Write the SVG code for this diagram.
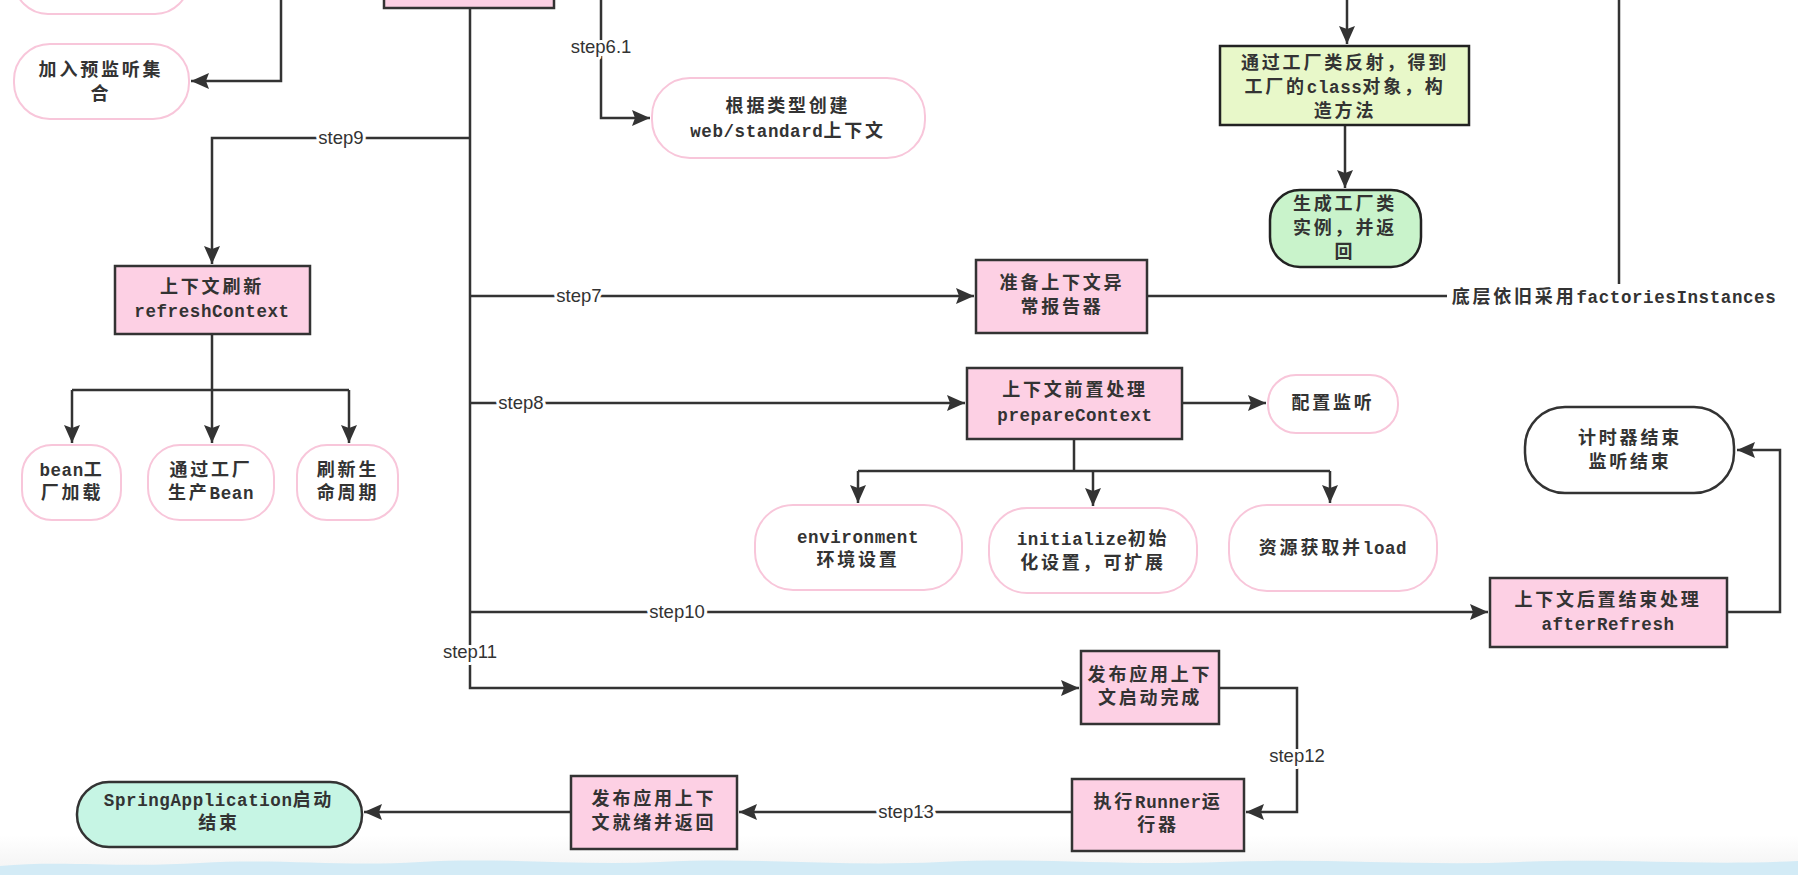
<svg xmlns="http://www.w3.org/2000/svg" width="1798" height="875" viewBox="0 0 1798 875">
<defs>
<style>
.pink{fill:#fdd0e4;stroke:#333;stroke-width:2.5}
.pill{fill:#fff;stroke:#f8c6da;stroke-width:2}
.blk{fill:#fff;stroke:#333;stroke-width:2.5}
.c{fill:none;stroke:#333;stroke-width:2.5}
.t{font-family:"Noto Sans CJK SC","Liberation Mono",sans-serif;font-size:18px;font-weight:bold;fill:#333;text-anchor:middle;letter-spacing:2.8px}
.l{font-family:"Liberation Mono","Noto Sans CJK SC",monospace;font-size:17.5px;font-weight:bold;letter-spacing:0.6px;fill:#333}
.s{font-family:"Liberation Sans",Arial,sans-serif;font-size:18.5px;fill:#333;text-anchor:middle;stroke:#fff;stroke-width:6px;paint-order:stroke;stroke-linejoin:round}
</style>
<marker id="a" markerUnits="userSpaceOnUse" markerWidth="20" markerHeight="16" refX="18" refY="8" orient="auto">
<path d="M0,0 L18,8 L0,16 L3,8 z" fill="#333"/>
</marker>
<linearGradient id="bg" x1="0" y1="0" x2="0" y2="1">
<stop offset="0" stop-color="#fff"/><stop offset="1" stop-color="#f2f2f2"/>
</linearGradient>
</defs>
<rect width="1798" height="875" fill="#fff"/>
<rect x="0" y="835" width="1798" height="40" fill="url(#bg)"/>
<path d="M0,866 C60,860 120,868 200,863 C280,858 340,867 420,862 C500,857 580,866 660,862 C760,857 840,867 940,862 C1040,857 1120,866 1220,862 C1320,858 1420,866 1520,862 C1620,858 1700,866 1798,861 V875 H0 Z" fill="#d3ebf6"/>

<g id="connectors">
<path class="c" d="M281,0 V81 H191" marker-end="url(#a)"/>
<path class="c" d="M470,8 V688 H1079" marker-end="url(#a)"/>
<path class="c" d="M601,0 V118 H650" marker-end="url(#a)"/>
<path class="c" d="M470,138 H212 V264" marker-end="url(#a)"/>
<path class="c" d="M212,334 V390 M72,390 H349"/>
<path class="c" d="M72,390 V443" marker-end="url(#a)"/>
<path class="c" d="M212,390 V443" marker-end="url(#a)"/>
<path class="c" d="M349,390 V443" marker-end="url(#a)"/>
<path class="c" d="M470,296 H974" marker-end="url(#a)"/>
<path class="c" d="M1147,296 H1447 M1619,0 V284"/>
<path class="c" d="M470,403 H965" marker-end="url(#a)"/>
<path class="c" d="M1182,403 H1266" marker-end="url(#a)"/>
<path class="c" d="M1074,439 V471 M858,471 H1330"/>
<path class="c" d="M858,471 V503" marker-end="url(#a)"/>
<path class="c" d="M1093,471 V506" marker-end="url(#a)"/>
<path class="c" d="M1330,471 V503" marker-end="url(#a)"/>
<path class="c" d="M470,612 H1488" marker-end="url(#a)"/>
<path class="c" d="M1727,612 H1780 V450 H1737" marker-end="url(#a)"/>
<path class="c" d="M1347,0 V44" marker-end="url(#a)"/>
<path class="c" d="M1345,125 V188" marker-end="url(#a)"/>
<path class="c" d="M1219,688 H1297 V812 H1246" marker-end="url(#a)"/>
<path class="c" d="M1072,812 H739" marker-end="url(#a)"/>
<path class="c" d="M571,812 H364" marker-end="url(#a)"/>
<text class="s" x="601" y="53">step6.1</text>
<text class="s" x="341" y="144">step9</text>
<text class="s" x="579" y="302">step7</text>
<text class="s" x="521" y="409">step8</text>
<text class="s" x="677" y="618">step10</text>
<text class="s" x="470" y="658">step11</text>
<text class="s" x="1297" y="762">step12</text>
<text class="s" x="906" y="818">step13</text>
<text class="t" x="1614" y="303">底层依旧采用<tspan class="l">factoriesInstances</tspan></text>
</g>

<g id="n-top-left"><rect class="pill" x="14" y="-60" width="175" height="74" rx="34"/></g>
<g id="n-main-top"><rect class="pink" x="384" y="-40" width="170" height="48"/></g>
<g id="n-prelisten"><rect class="pill" x="14" y="44" width="175" height="75" rx="36"/>
<text class="t" x="101" y="76">加入预监听集</text><text class="t" x="101" y="100">合</text></g>
<g id="n-create-ctx"><rect class="pill" x="652" y="78" width="273" height="80" rx="38"/>
<text class="t" x="788" y="112">根据类型创建</text><text class="t" x="788" y="137"><tspan class="l">web/standard</tspan>上下文</text></g>
<g id="n-reflect"><rect x="1220" y="46" width="249" height="79" fill="#e8f8c9" stroke="#222" stroke-width="2.5"/>
<text class="t" x="1345" y="69">通过工厂类反射，得到</text><text class="t" x="1345" y="93">工厂的<tspan class="l">class</tspan>对象，构</text><text class="t" x="1345" y="117">造方法</text></g>
<g id="n-instance"><rect x="1270" y="190" width="151" height="77" rx="30" fill="#c9f3cb" stroke="#222" stroke-width="2.5"/>
<text class="t" x="1345" y="210">生成工厂类</text><text class="t" x="1345" y="234">实例，并返</text><text class="t" x="1345" y="258">回</text></g>
<g id="n-refresh"><rect class="pink" x="115" y="266" width="195" height="68"/>
<text class="t" x="212" y="293">上下文刷新</text><text class="t" x="212" y="317"><tspan class="l">refreshContext</tspan></text></g>
<g id="n-bean"><rect class="pill" x="22" y="445" width="99" height="75" rx="30"/>
<text class="t" x="72" y="476"><tspan class="l">bean</tspan>工</text><text class="t" x="72" y="499">厂加载</text></g>
<g id="n-produce"><rect class="pill" x="148" y="445" width="126" height="75" rx="32"/>
<text class="t" x="211" y="476">通过工厂</text><text class="t" x="211" y="499">生产<tspan class="l">Bean</tspan></text></g>
<g id="n-lifecycle"><rect class="pill" x="297" y="445" width="101" height="75" rx="30"/>
<text class="t" x="348" y="476">刷新生</text><text class="t" x="348" y="499">命周期</text></g>
<g id="n-reporter"><rect class="pink" x="976" y="260" width="171" height="73"/>
<text class="t" x="1062" y="289">准备上下文异</text><text class="t" x="1062" y="313">常报告器</text></g>
<g id="n-prepare"><rect class="pink" x="967" y="368" width="215" height="71"/>
<text class="t" x="1075" y="396">上下文前置处理</text><text class="t" x="1075" y="421"><tspan class="l">prepareContext</tspan></text></g>
<g id="n-listen"><rect class="pill" x="1268" y="375" width="130" height="58" rx="28"/>
<text class="t" x="1333" y="409">配置监听</text></g>
<g id="n-env"><rect class="pill" x="755" y="505" width="207" height="85" rx="38"/>
<text class="t" x="858" y="543"><tspan class="l">environment</tspan></text><text class="t" x="858" y="566">环境设置</text></g>
<g id="n-init"><rect class="pill" x="989" y="508" width="208" height="85" rx="38"/>
<text class="t" x="1093" y="545"><tspan class="l">initialize</tspan>初始</text><text class="t" x="1093" y="569">化设置，可扩展</text></g>
<g id="n-load"><rect class="pill" x="1229" y="505" width="208" height="86" rx="38"/>
<text class="t" x="1333" y="554">资源获取并<tspan class="l">load</tspan></text></g>
<g id="n-timer"><rect class="blk" x="1525" y="407" width="209" height="86" rx="40"/>
<text class="t" x="1630" y="444">计时器结束</text><text class="t" x="1630" y="468">监听结束</text></g>
<g id="n-after"><rect class="pink" x="1490" y="578" width="237" height="69"/>
<text class="t" x="1608" y="606">上下文后置结束处理</text><text class="t" x="1608" y="630"><tspan class="l">afterRefresh</tspan></text></g>
<g id="n-started"><rect class="pink" x="1081" y="651" width="138" height="73"/>
<text class="t" x="1150" y="681">发布应用上下</text><text class="t" x="1150" y="704">文启动完成</text></g>
<g id="n-runner"><rect class="pink" x="1072" y="779" width="172" height="72"/>
<text class="t" x="1158" y="808">执行<tspan class="l">Runner</tspan>运</text><text class="t" x="1158" y="831">行器</text></g>
<g id="n-ready"><rect class="pink" x="571" y="776" width="166" height="73"/>
<text class="t" x="654" y="805">发布应用上下</text><text class="t" x="654" y="829">文就绪并返回</text></g>
<g id="n-end"><rect x="77" y="782" width="285" height="65" rx="32" fill="#c6f5e4" stroke="#333" stroke-width="2.5"/>
<text class="t" x="219" y="806"><tspan class="l">SpringApplication</tspan>启动</text><text class="t" x="219" y="829">结束</text></g>
</svg>
